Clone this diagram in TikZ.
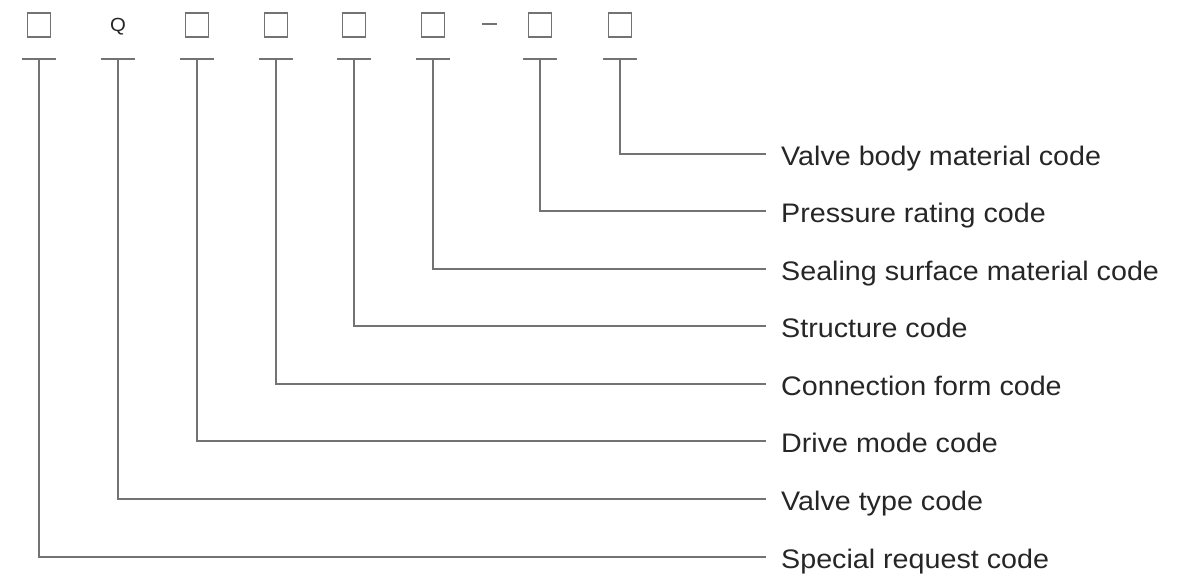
\documentclass[tikz,border=0pt]{standalone}
\usepackage{fontspec}
\setmainfont[FakeStretch=1.07]{Liberation Sans}
\begin{document}
\begin{tikzpicture}[x=1pt,y=-1pt,
  ln/.style={draw=black!55,line width=1.4pt},
  codebox/.style={draw=black!55,line width=1.4pt,minimum width=23pt,minimum height=24pt,inner sep=0pt},
  lbl/.style={anchor=base west,inner sep=0pt,font=\fontsize{26.8}{32}\selectfont,text=black!85}]
\useasboundingbox (0,0) rectangle (1196,576);
% code boxes
\node[codebox] (b1) at (39,25) {};
\node[inner sep=0pt,font=\fontsize{19}{22}\selectfont,text=black!85] (b2) at (118,27) {Q};
\node[codebox] (b3) at (197,25) {};
\node[codebox] (b4) at (276,25) {};
\node[codebox] (b5) at (354,25) {};
\node[codebox] (b6) at (433,25) {};
\node[codebox] (b7) at (540,25) {};
\node[codebox] (b8) at (620,25) {};
\draw[ln] (482,24) -- (497,24);
% tees
\foreach \n/\x in {1/39,2/118,3/197,4/276,5/354,6/433,7/540,8/620}{
  \coordinate (t\n) at (\x,59);
  \draw[ln] (\x-17,59) -- (\x+17,59);
}
% labels
\foreach \n/\yy/\txt in {8/154/Valve body material code,7/211/Pressure rating code,6/269/Sealing surface material code,5/326/Structure code,4/384/Connection form code,3/441/Drive mode code,2/499/Valve type code,1/557/Special request code}{
  \node[lbl] (l\n) at (781,\yy+11.5) {\txt};
  \coordinate (e\n) at (766,\yy);
  \draw[ln] (t\n) |- (e\n);
}
\end{tikzpicture}
\end{document}
